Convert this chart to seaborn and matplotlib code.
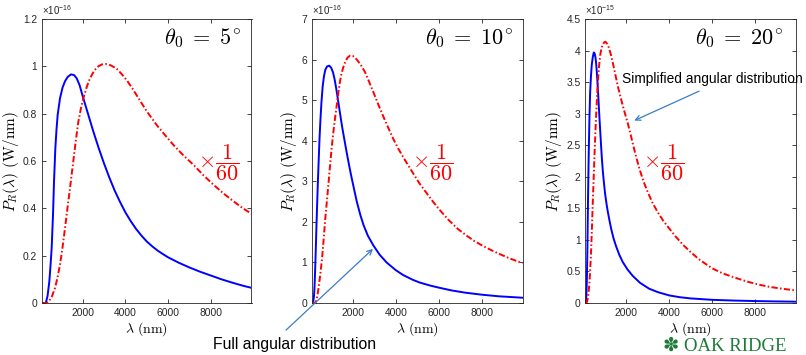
import numpy as np
import pandas as pd
import matplotlib
matplotlib.use("Agg")
import matplotlib.pyplot as plt
import seaborn as sns
from matplotlib.ticker import FuncFormatter

# ---------------- data ----------------
# theta0 = 5 deg  (units of 1e-16 W/nm)
lam_full_5 = [100, 240, 290, 360, 443, 500, 552, 615, 662, 724, 780, 833, 942, 1060, 1176, 1300, 1457,
              1600, 1720, 1860, 2000, 2250, 2500, 2750, 3000, 3250, 3500, 3750, 4000, 4250, 4500, 4750,
              5000, 5250, 5500, 5750, 6000, 6500, 7000, 7500, 8000, 8500, 9000, 9500, 9900]
pw_full_5 = [0, 0, 0.004, 0.03, 0.091, 0.16, 0.232, 0.373, 0.513, 0.654, 0.735, 0.795, 0.865, 0.91, 0.937,
             0.955, 0.966, 0.963, 0.95, 0.92, 0.875, 0.8, 0.725, 0.655, 0.59, 0.53, 0.475, 0.427, 0.383,
             0.346, 0.313, 0.285, 0.26, 0.24, 0.222, 0.207, 0.193, 0.17, 0.15, 0.132, 0.116, 0.1, 0.086,
             0.073, 0.064]
lam_simp_5 = [100, 300, 396, 550, 708, 820, 942, 1060, 1176, 1290, 1410, 1490, 1566, 1680, 1800, 1920,
              2034, 2200, 2346, 2550, 2736, 2900, 3080, 3300, 3594, 3800, 4062, 4374, 4686, 5000, 5466,
              5850, 6246, 6700, 7182, 7650, 8118, 8600, 9054, 9500, 9900]
pw_simp_5 = [0, 0, 0.004, 0.025, 0.063, 0.105, 0.162, 0.235, 0.316, 0.4, 0.485, 0.545, 0.6, 0.685, 0.766,
             0.822, 0.865, 0.915, 0.949, 0.983, 1.0, 1.008, 1.01, 1.005, 0.99, 0.97, 0.942, 0.9, 0.855,
             0.81, 0.752, 0.71, 0.668, 0.625, 0.584, 0.54, 0.5, 0.462, 0.43, 0.4, 0.377]

# theta0 = 10 deg  (units of 1e-16 W/nm)
lam_full_10 = [100, 152, 190, 214, 245, 275, 305, 337, 375, 414, 450, 491, 540, 599, 660, 722, 800, 900,
               990, 1076, 1150, 1230, 1320, 1415, 1500, 1600, 1700, 1800, 1900, 2000, 2185, 2350, 2500,
               2700, 2955, 3250, 3571, 4000, 4341, 4800, 5111, 5600, 6035, 6600, 7230, 8000, 8800, 9900]
pw_full_10 = [0, 0.02, 0.15, 0.35, 0.8, 1.3, 1.85, 2.4, 3.0, 3.55, 4.05, 4.5, 4.95, 5.35, 5.6, 5.75, 5.83,
              5.85, 5.8, 5.69, 5.52, 5.28, 4.97, 4.64, 4.35, 4.05, 3.75, 3.47, 3.2, 2.95, 2.5, 2.17, 1.92,
              1.66, 1.42, 1.19, 1.0, 0.81, 0.69, 0.57, 0.505, 0.43, 0.375, 0.31, 0.255, 0.205, 0.165, 0.13]
lam_simp_10 = [100, 260, 340, 414, 490, 568, 645, 722, 800, 876, 950, 1030, 1110, 1184, 1296, 1370, 1450,
               1550, 1650, 1760, 1877, 2000, 2185, 2370, 2570, 2760, 2955, 3180, 3417, 3650, 3879, 4100,
               4341, 4570, 4803, 5100, 5419, 5700, 6035, 6450, 6902, 7300, 7679, 8150, 8610, 9250, 9900]
pw_simp_10 = [0, 0, 0.15, 0.4, 0.72, 1.1, 1.58, 2.1, 2.55, 3.0, 3.45, 3.9, 4.28, 4.6, 5.05, 5.35, 5.6,
              5.8, 5.95, 6.05, 6.1, 6.09, 6.0, 5.87, 5.69, 5.45, 5.2, 4.9, 4.6, 4.32, 4.05, 3.82,
              3.6, 3.4, 3.2, 2.95, 2.72, 2.52, 2.3, 2.05, 1.82, 1.66, 1.52, 1.38, 1.26, 1.11, 0.98]

# theta0 = 20 deg  (units of 1e-15 W/nm)
lam_full_20 = [100, 130, 150, 171, 195, 217, 240, 264, 295, 326, 365, 403, 450, 497, 540, 574, 605, 636,
               667, 698, 730, 760, 800, 838, 875, 915, 970, 1024, 1090, 1148, 1220, 1303, 1420, 1535,
               1690, 1845, 2070, 2310, 2650, 3085, 3500, 4015, 4500, 5000, 6030, 7000, 8000, 9000, 9900]
pw_full_20 = [0, 0.02, 0.12, 0.34, 0.8, 1.39, 1.95, 2.45, 2.95, 3.34, 3.6, 3.78, 3.9, 3.97, 3.95, 3.89,
              3.8, 3.66, 3.5, 3.32, 3.12, 2.93, 2.7, 2.48, 2.28, 2.1, 1.9, 1.73, 1.57, 1.45, 1.32, 1.18,
              1.02, 0.9, 0.76, 0.65, 0.53, 0.43, 0.32, 0.225, 0.17, 0.12, 0.092, 0.073, 0.05, 0.039, 0.031,
              0.025, 0.021]
lam_simp_20 = [100, 140, 180, 220, 258, 295, 335, 373, 410, 450, 490, 528, 566, 605, 645, 683, 735, 791,
               850, 915, 980, 1039, 1110, 1194, 1290, 1380, 1500, 1613, 1730, 1845, 1960, 2078, 2200,
               2310, 2460, 2620, 2810, 3008, 3230, 3473, 3740, 4015, 4320, 4635, 5000, 5410, 5750, 6070,
               6500, 7000, 7640, 8200, 8700, 9300, 9900]
pw_simp_20 = [0, 0, 0.02, 0.08, 0.18, 0.34, 0.57, 0.85, 1.2, 1.6, 1.98, 2.34, 2.67, 2.97, 3.25, 3.49,
              3.73, 3.92, 4.03, 4.10, 4.13, 4.14, 4.11, 4.05, 3.94, 3.81, 3.62, 3.44, 3.28, 3.13, 2.99,
              2.85, 2.69, 2.53, 2.33, 2.13, 1.93, 1.76, 1.59, 1.44, 1.3, 1.18, 1.05, 0.93, 0.81, 0.69,
              0.61, 0.54, 0.47, 0.41, 0.34, 0.29, 0.255, 0.225, 0.2]

panel_titles = [r"$\theta_0\;=\;5^{\!\circ}$", r"$\theta_0\;=\;10^{\!\circ}$", r"$\theta_0\;=\;20^{\!\circ}$"]
scale_exponents = [-16, -16, -15]
y_tick_lists = [[0, 0.2, 0.4, 0.6, 0.8, 1.0, 1.2],
                [0, 1, 2, 3, 4, 5, 6, 7],
                [0, 0.5, 1, 1.5, 2, 2.5, 3, 3.5, 4, 4.5]]
x_ticks = [2000, 4000, 6000, 8000]
x_range = [100, 9900]
model_names = ["Full angular distribution", "Simplified angular distribution"]
scale_note = r"$\times\dfrac{1}{60}$"

lam_full = [lam_full_5, lam_full_10, lam_full_20]
pw_full = [pw_full_5, pw_full_10, pw_full_20]
lam_simp = [lam_simp_5, lam_simp_10, lam_simp_20]
pw_simp = [pw_simp_5, pw_simp_10, pw_simp_20]

# ---------------- style ----------------
sns.set_theme(style="ticks")
plt.rcParams["font.family"] = ["Liberation Sans", "DejaVu Sans"]
plt.rcParams["mathtext.fontset"] = "cm"
plt.rcParams["mathtext.rm"] = "Liberation Sans"
plt.rcParams["mathtext.it"] = "Liberation Sans:italic"
plt.rcParams["mathtext.bf"] = "Liberation Sans:bold"
plt.rcParams["axes.unicode_minus"] = True

W, H = 806, 355
fig = plt.figure(figsize=(W / 100, H / 100), dpi=100)
fig.patch.set_facecolor("white")

panel_px = [(42, 251.5), (312, 522.5), (585.3, 795.5)]
top_px, bot_px = 19, 303
note_x = [0.845, 0.572, 0.372]
title_x = [0.952, 0.955, 0.942]

palette = {model_names[0]: "#0000ff", model_names[1]: "#ff0000"}
dashes = {model_names[0]: "", model_names[1]: (3.2, 1.2, 0.8, 1.2)}
dark = "#262626"

for i, (l, r) in enumerate(panel_px):
    ax = fig.add_axes([l / W, (H - bot_px) / H, (r - l) / W, (bot_px - top_px) / H])
    df = pd.DataFrame({
        "wavelength": list(lam_full[i]) + list(lam_simp[i]),
        "power": list(pw_full[i]) + list(pw_simp[i]),
        "model": [model_names[0]] * len(lam_full[i]) + [model_names[1]] * len(lam_simp[i]),
    })
    sns.lineplot(data=df, x="wavelength", y="power", hue="model", style="model",
                 palette=palette, dashes=dashes, estimator=None, sort=False,
                 legend=False, linewidth=1.4, ax=ax)
    for ln in ax.get_lines():
        ln.set_solid_joinstyle("round")
        ln.set_dash_joinstyle("round")

    ax.set_xlim(*x_range)
    yt = y_tick_lists[i]
    ax.set_ylim(yt[0], yt[-1])
    ax.set_xticks(x_ticks)
    ax.set_yticks(yt)
    fmt = FuncFormatter(lambda v, p: "%g" % v)
    ax.xaxis.set_major_formatter(fmt)
    ax.yaxis.set_major_formatter(fmt)
    ax.tick_params(direction="in", length=3, width=0.6, top=True, right=True,
                   labelsize=7.4, colors=dark, pad=3.5)
    for s in ax.spines.values():
        s.set_visible(True)
        s.set_linewidth(0.6)
        s.set_color(dark)

    ax.set_xlabel(r"$\lambda\ (\mathrm{nm})$", fontsize=10, labelpad=2, color="black")
    ax.set_ylabel(r"$P_R(\lambda)\ (\mathrm{W/nm})$", fontsize=11, labelpad=1.5, color="black")

    ax.text(0.0, 1.006, r"$\times10^{%d}$" % scale_exponents[i], transform=ax.transAxes,
            ha="left", va="bottom", fontsize=7, color=dark, math_fontfamily="custom")
    ax.text(title_x[i], 0.975, panel_titles[i], transform=ax.transAxes,
            ha="right", va="top", fontsize=16, color="black")
    ax.text(note_x[i], 0.493, scale_note, transform=ax.transAxes,
            ha="center", va="center", fontsize=16, color="#ff0000")

# annotations
arrow_color = "#3a7cc8"
fig.text(213 / W, (H - 344) / H, model_names[0], ha="left", va="center",
         fontsize=11.3, color="black")
fig.add_artist(matplotlib.patches.FancyArrowPatch(
    (284 / W, (H - 332) / H), (375 / W, (H - 247) / H), transform=fig.transFigure,
    arrowstyle="->", mutation_scale=9, color=arrow_color, lw=0.9))

fig.text(622 / W, (H - 79) / H, model_names[1], ha="left", va="center",
         fontsize=9.9, color="black")
fig.add_artist(matplotlib.patches.FancyArrowPatch(
    (701.7 / W, (H - 90) / H), (631.7 / W, (H - 121.7) / H), transform=fig.transFigure,
    arrowstyle="->", mutation_scale=9, color=arrow_color, lw=0.9))

# logo
green = "#1f7a3a"
fig.text(663 / W, 4 / H, "\u273d", ha="left", va="baseline", fontsize=14,
         color=green, family=["DejaVu Sans"])
fig.text(684 / W, 4 / H, "OAK RIDGE", ha="left", va="baseline", fontsize=13.5,
         color=green, family=["Liberation Serif"])

fig.savefig("out.png", dpi=100, facecolor="white")
